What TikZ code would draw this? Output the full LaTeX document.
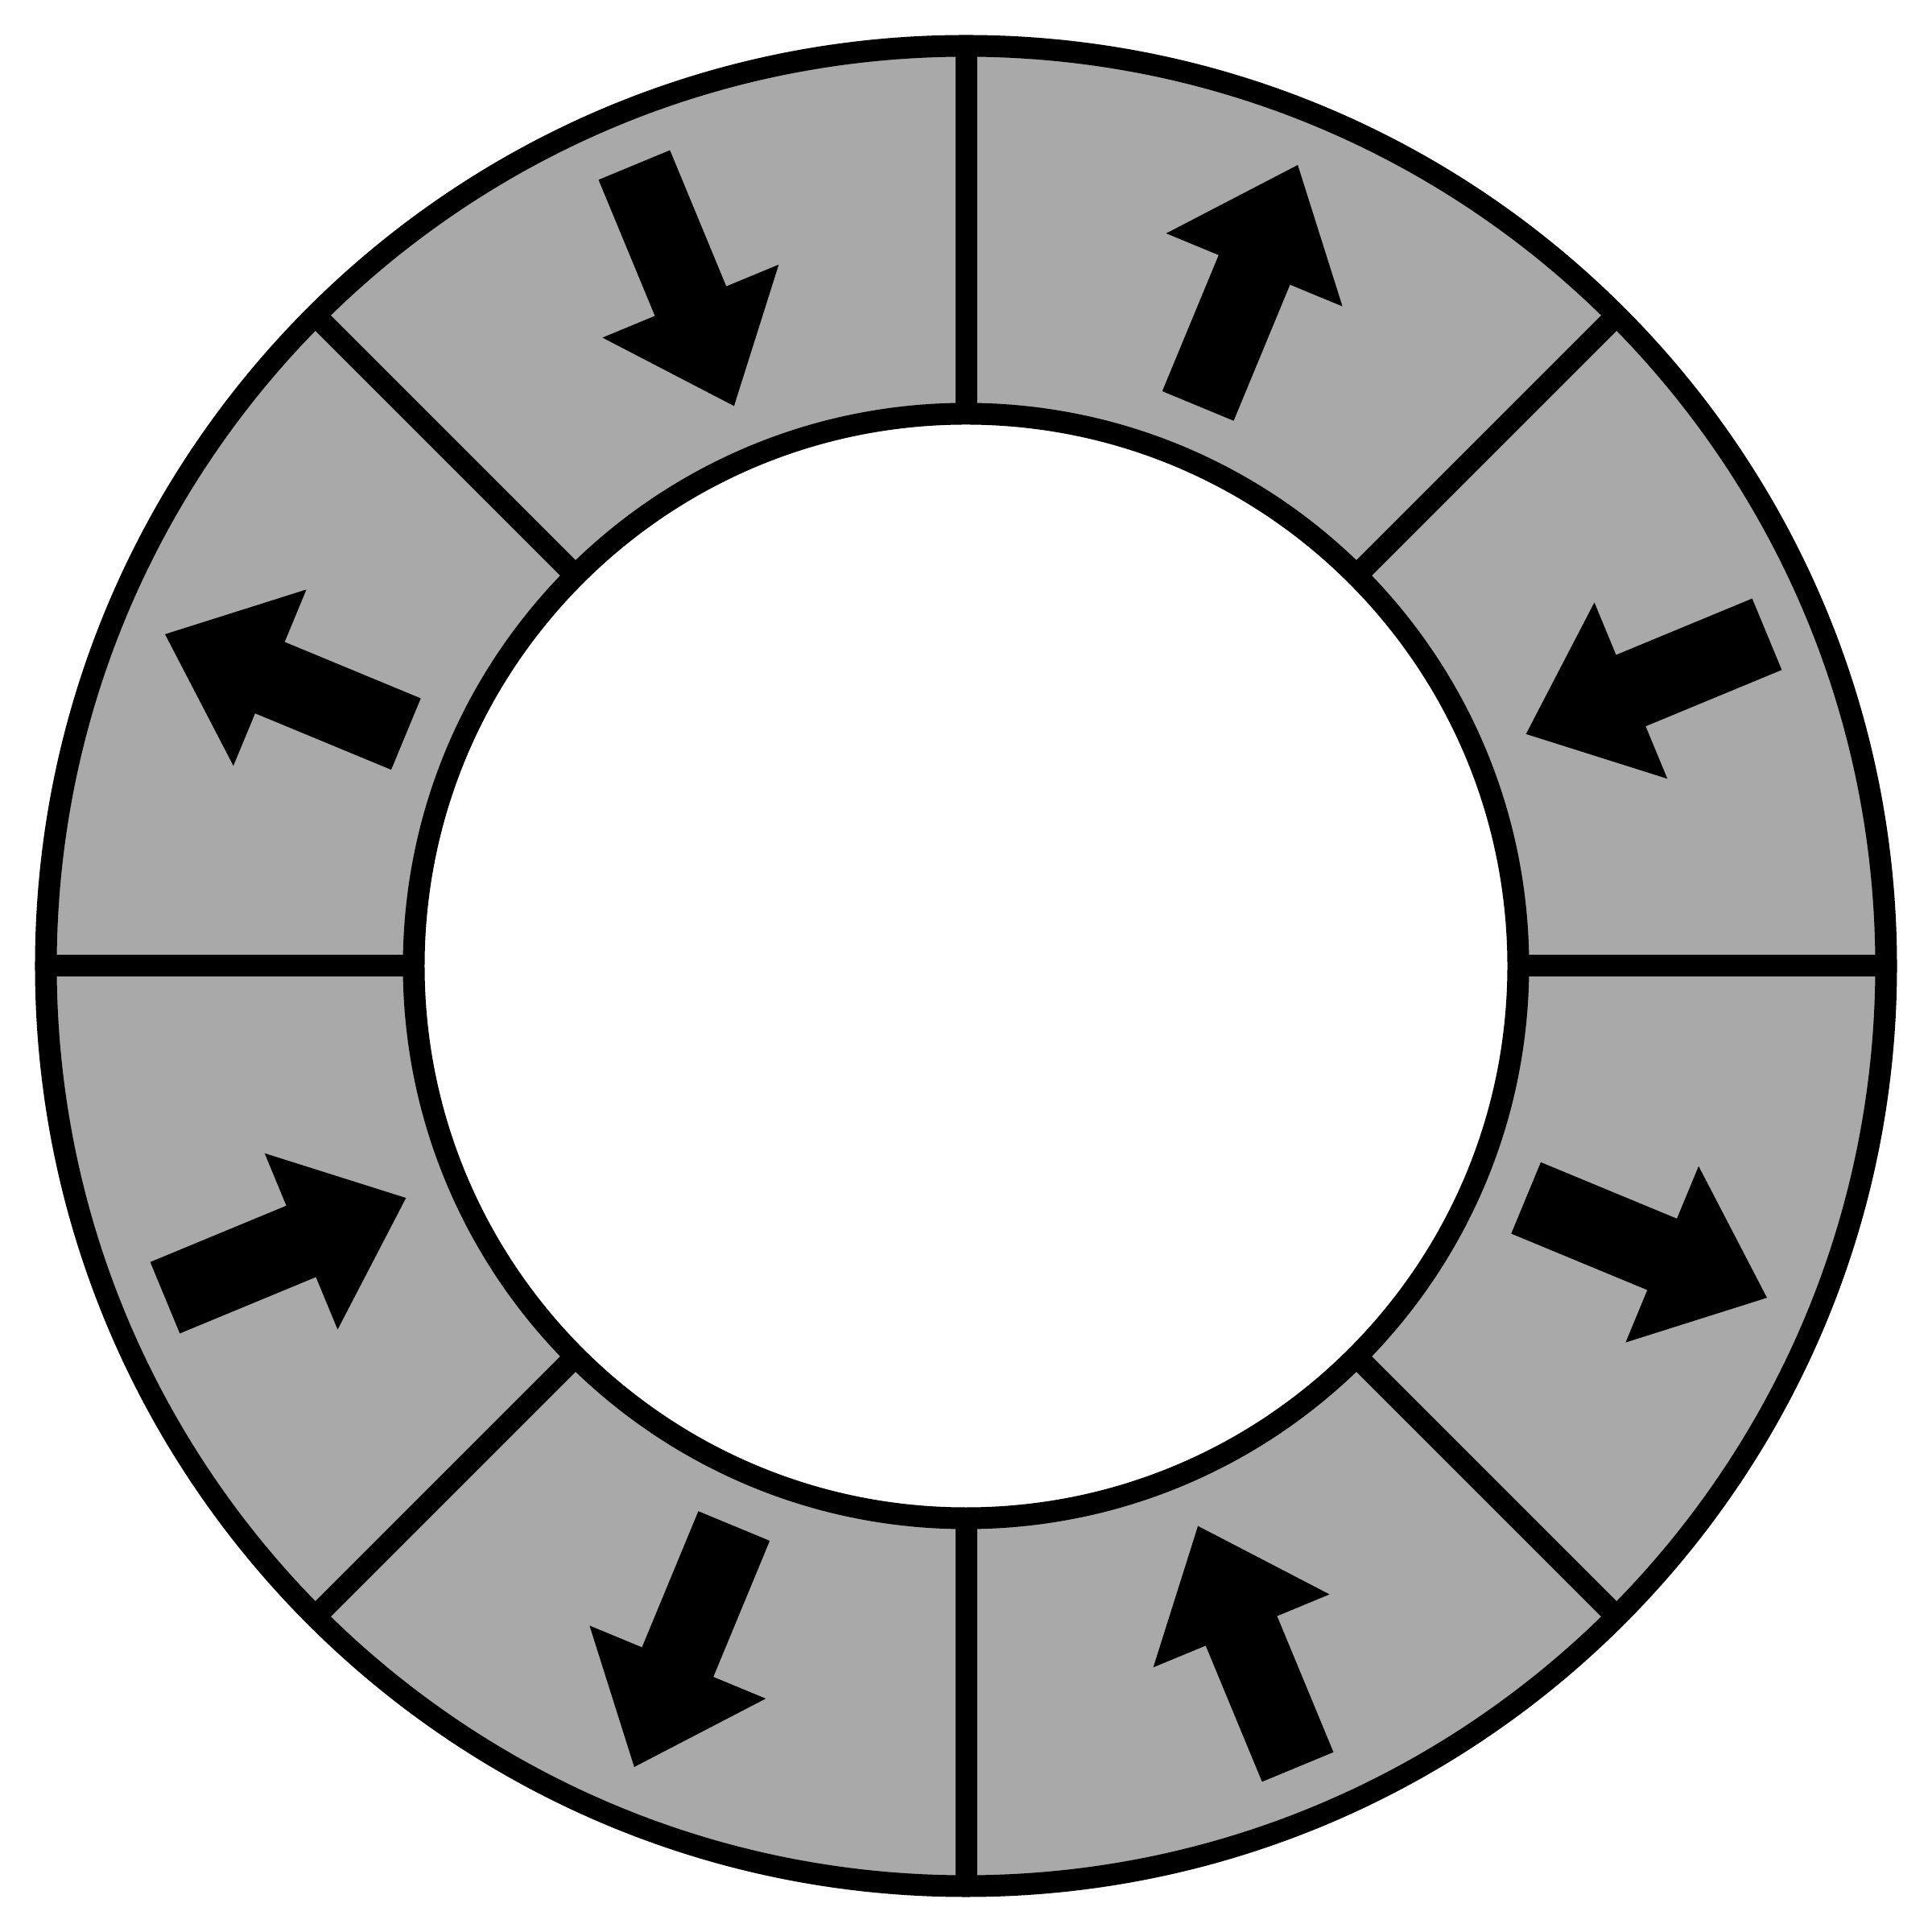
\documentclass[tikz,border=0pt]{standalone}
\definecolor{ringgray}{RGB}{169,169,169}
\tikzset{
  ringline/.style={line width=0.27cm, black},
  magarrow/.style={fill=black, draw=none}
}
\newcommand{\magarrowpath}{(0,-0.48) -- (1.83,-0.48) -- (1.83,-1.185) -- (3.24,0) -- (1.83,1.185) -- (1.83,0.48) -- (0,0.48) -- cycle}
\begin{document}
\begin{tikzpicture}
\useasboundingbox (-12,-12) rectangle (12,12);
\coordinate (c) at (0,0);
% ring fill
\fill[ringgray, even odd rule] (c) circle (11.43) (c) circle (6.86);
% radial separators
\foreach \a in {0,45,...,315}{
  \coordinate (in\a) at (\a:6.86);
  \coordinate (out\a) at (\a:11.43);
  \draw[ringline] (in\a) -- (out\a);
}
% circles
\draw[ringline] (c) circle (11.43);
\draw[ringline] (c) circle (6.86);
% outward arrows
\foreach \a in {67.5,157.5,247.5,337.5}{
  \fill[magarrow, shift={(\a:7.53)}, rotate=\a] \magarrowpath;
}
% inward arrows
\foreach \a in {22.5,112.5,202.5,292.5}{
  \fill[magarrow, shift={(\a:10.77)}, rotate=\a+180] \magarrowpath;
}
\end{tikzpicture}
\end{document}
